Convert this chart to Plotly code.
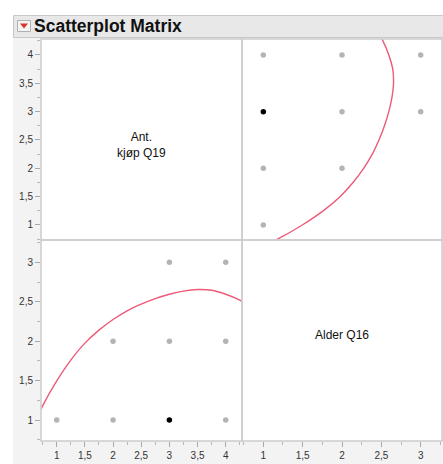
import plotly.graph_objects as go

# ---- data ----
var_names = ["Ant.<br>kjøp Q19", "Alder Q16"]
ant = [1, 2, 3, 4, 2, 3, 4, 3, 4]          # Ant. kjøp Q19
alder = [1, 1, 1, 1, 2, 2, 2, 3, 3]        # Alder Q16
selected = [0, 0, 1, 0, 0, 0, 0, 0, 0]     # highlighted (black) row

# density ellipse arc (ant, alder)
ell_ant = [0.50, 0.75, 1.00, 1.25, 1.50, 1.75, 2.00, 2.25, 2.50, 2.75,
           3.00, 3.25, 3.50, 3.75, 4.00, 4.25, 4.50]
ell_alder = [0.80, 1.18, 1.495, 1.76, 1.975, 2.14, 2.275, 2.385, 2.47, 2.54,
             2.595, 2.635, 2.655, 2.645, 2.595, 2.52, 2.41]

ant_ticks = [1, 1.5, 2, 2.5, 3, 3.5, 4]
ant_ticktext = ["1", "1,5", "2", "2,5", "3", "3,5", "4"]
alder_ticks = [1, 1.5, 2, 2.5, 3]
alder_ticktext = ["1", "1,5", "2", "2,5", "3"]

title_text = "Scatterplot Matrix"

# ---- figure ----
W, H = 443, 464
L, R, T, B = 41, 1, 39, 23
pw, ph = W - L - R, H - T - B


def px(x):
    return (x - L) / pw


def py(y):
    return (H - B - y) / ph


xsplit = px(242)
ysplit = py(240)

dot_colors = ["#000000" if s else "#b4b4b4" for s in selected]
curve_color = "#ec5a78"

fig = go.Figure()
# top-right: x = Alder, y = Ant
fig.add_trace(go.Scatter(x=alder, y=ant, mode="markers", xaxis="x2", yaxis="y",
                         marker=dict(color=dot_colors, size=5.5), hoverinfo="skip"))
fig.add_trace(go.Scatter(x=ell_alder, y=ell_ant, mode="lines", xaxis="x2", yaxis="y",
                         line=dict(color=curve_color, width=1.4, shape="spline", smoothing=1),
                         hoverinfo="skip"))
# bottom-left: x = Ant, y = Alder
fig.add_trace(go.Scatter(x=ant, y=alder, mode="markers", xaxis="x", yaxis="y2",
                         marker=dict(color=dot_colors, size=5.5), hoverinfo="skip"))
fig.add_trace(go.Scatter(x=ell_ant, y=ell_alder, mode="lines", xaxis="x", yaxis="y2",
                         line=dict(color=curve_color, width=1.4, shape="spline", smoothing=1),
                         hoverinfo="skip"))
# empty traces for the diagonal cells
fig.add_trace(go.Scatter(x=[], y=[], xaxis="x", yaxis="y"))
fig.add_trace(go.Scatter(x=[], y=[], xaxis="x2", yaxis="y2"))

tickfont = dict(family="Liberation Sans, Arial, sans-serif", size=10, color="#333333")
common = dict(showgrid=False, zeroline=False, showline=False, ticks="outside",
              ticklen=5, tickcolor="#a8a8a8", tickwidth=1, tickfont=tickfont,
              minor=dict(ticks="outside", ticklen=3, tickcolor="#b8b8b8", dtick=0.25))

fig.update_layout(
    width=W, height=H, margin=dict(l=L, r=R, t=T, b=B),
    paper_bgcolor="#f3f3f3", plot_bgcolor="#ffffff", showlegend=False,
    xaxis=dict(domain=[0, xsplit], range=[0.721, 4.289], anchor="y2",
               tickvals=ant_ticks, ticktext=ant_ticktext, **common),
    xaxis2=dict(domain=[xsplit, 1], range=[0.729, 3.271], anchor="y2",
                tickvals=alder_ticks, ticktext=alder_ticktext, **common),
    yaxis=dict(domain=[ysplit, 1], range=[0.735, 4.282], anchor="x",
               tickvals=ant_ticks, ticktext=ant_ticktext, **common),
    yaxis2=dict(domain=[0, ysplit], range=[0.734, 3.283], anchor="x",
                tickvals=alder_ticks, ticktext=alder_ticktext, **common),
)

shapes = []
# white strips at top and left edge
shapes.append(dict(type="rect", xref="paper", yref="paper", x0=px(0), x1=px(W),
                   y0=py(0), y1=py(15), fillcolor="#ffffff", line=dict(width=0), layer="below"))
shapes.append(dict(type="rect", xref="paper", yref="paper", x0=px(0), x1=px(13),
                   y0=py(0), y1=py(H), fillcolor="#ffffff", line=dict(width=0), layer="below"))
# title bar
shapes.append(dict(type="rect", xref="paper", yref="paper", x0=px(13.5), x1=px(444),
                   y0=py(15.5), y1=py(37.5), fillcolor="#e8e8e8",
                   line=dict(color="#c8c8c8", width=1), layer="below"))
# disclosure icon
shapes.append(dict(type="rect", xref="paper", yref="paper", x0=px(17.5), x1=px(30.5),
                   y0=py(20.5), y1=py(31.5), fillcolor="#f4f4f4",
                   line=dict(color="#b0b0b0", width=1)))
shapes.append(dict(type="path", xref="paper", yref="paper",
                   path=f"M {px(20)} {py(23.5)} L {px(28)} {py(23.5)} L {px(24)} {py(28.5)} Z",
                   fillcolor="#d9342b", line=dict(width=0)))
# cell frames
for (x0, x1) in [(0, xsplit), (xsplit, 1)]:
    for (y0, y1) in [(0, ysplit), (ysplit, 1)]:
        shapes.append(dict(type="rect", xref="paper", yref="paper", x0=x0, x1=x1,
                           y0=y0, y1=y1, line=dict(color="#cdcdcd", width=1.5),
                           fillcolor="rgba(0,0,0,0)"))
fig.update_layout(shapes=shapes)

fig.add_annotation(xref="paper", yref="paper", x=px(32), y=py(26.5), xanchor="left",
                   yanchor="middle", showarrow=False, text="<b>" + title_text + "</b>",
                   font=dict(family="Liberation Sans, Arial, sans-serif", size=17.5, color="#111111"))
fig.add_annotation(xref="x domain", yref="y domain", x=0.5, y=0.475, showarrow=False,
                   text=var_names[0],
                   font=dict(family="Liberation Sans, Arial, sans-serif", size=12, color="#111111"))
fig.add_annotation(xref="x2 domain", yref="y2 domain", x=0.5, y=0.525, showarrow=False,
                   text=var_names[1],
                   font=dict(family="Liberation Sans, Arial, sans-serif", size=12, color="#111111"))

fig.write_html("out.html")
